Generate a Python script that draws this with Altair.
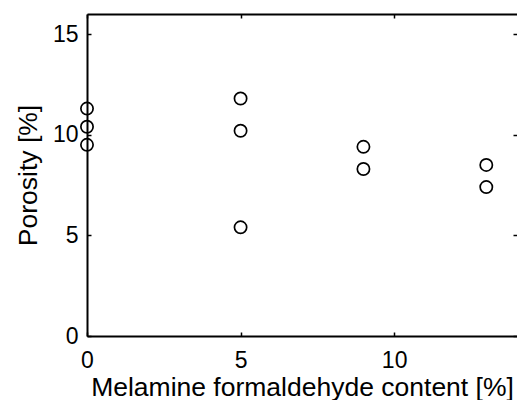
import altair as alt
import pandas as pd

content = [0, 0, 0, 5, 5, 5, 9, 9, 13, 13]
porosity = [11.3, 10.4, 9.5, 11.8, 10.2, 5.4, 9.4, 8.3, 8.5, 7.4]
x_ticks = [0, 5, 10]
y_ticks = [0, 5, 10, 15]
x_title = "Melamine formaldehyde content [%]"
y_title = "Porosity [%]"

df = pd.DataFrame({"content": content, "porosity": porosity})

FONT = "Liberation Sans"
xs = alt.Scale(domain=[0, 14], nice=False, zero=False)
ys = alt.Scale(domain=[0, 16], nice=False, zero=False)
base = alt.Chart(df)

# main layer: points, frame lines (left/bottom), labels, titles
points = base.mark_point(shape="circle", filled=False, color="black", size=150,
                         strokeWidth=1.7, opacity=1).encode(
    x=alt.X("content:Q", scale=xs, axis=alt.Axis(
        orient="bottom", values=x_ticks, domain=True, domainColor="black", domainWidth=2,
        ticks=False, tickSize=0, labelFontSize=23, labelFont=FONT, labelColor="black",
        labelPadding=13, labelFlush=False, grid=False,
        title=x_title, titleFontSize=26.5, titleFont=FONT, titleFontWeight="normal",
        titleColor="black", titleBaseline="alphabetic", titleY=59)),
    y=alt.Y("porosity:Q", scale=ys, axis=alt.Axis(
        orient="left", values=y_ticks, domain=True, domainColor="black", domainWidth=2,
        ticks=False, tickSize=0, labelFontSize=23, labelFont=FONT, labelColor="black",
        labelPadding=9, labelFlush=False, grid=False,
        title=y_title, titleFontSize=26.5, titleFont=FONT, titleFontWeight="normal",
        titleColor="black", titleAngle=-90, titleBaseline="alphabetic",
        titleX=-50.5, titleY=161, titleAlign="center")),
)

def tick_axis(orient, vals, domain=False):
    return alt.Axis(orient=orient, values=vals, domain=domain, domainColor="black",
                    domainWidth=2, labels=False, ticks=not domain, tickSize=4,
                    tickColor="black", tickWidth=1.5, offset=0 if domain else -4,
                    grid=False, title=None)

ghost = base.mark_point(opacity=0)

# top frame line + right inward ticks
layer2 = ghost.encode(
    x=alt.X("content:Q", scale=xs, axis=tick_axis("top", x_ticks, domain=True)),
    y=alt.Y("porosity:Q", scale=ys, axis=tick_axis("right", y_ticks)),
)
# bottom and left inward ticks
layer3 = ghost.encode(
    x=alt.X("content:Q", scale=xs, axis=tick_axis("bottom", x_ticks)),
    y=alt.Y("porosity:Q", scale=ys, axis=tick_axis("left", y_ticks)),
)
# top inward ticks
layer4 = ghost.encode(
    x=alt.X("content:Q", scale=xs, axis=tick_axis("top", x_ticks)),
    y=alt.Y("porosity:Q", scale=ys, axis=None),
)

chart = alt.layer(points, layer2, layer3, layer4).resolve_axis(
    x="independent", y="independent"
).properties(
    width=430, height=322,
    autosize=alt.AutoSizeParams(type="none"),
    padding={"left": 87, "top": 14, "right": 0, "bottom": 64},
    background="white",
).configure_view(stroke=None)

chart.save("out.html", embed_options={"renderer": "svg", "actions": False})
